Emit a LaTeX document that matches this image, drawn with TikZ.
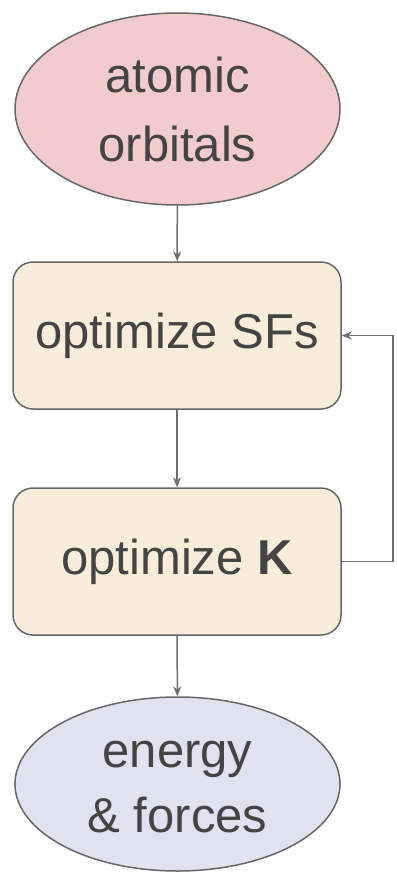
\documentclass[tikz,border=0pt]{standalone}
\usepackage{fontspec}
\setmainfont{Liberation Sans}
\usetikzlibrary{shapes.geometric,arrows.meta}
\definecolor{pinkfill}{HTML}{F2CCCC}
\definecolor{creamfill}{HTML}{F8EDD8}
\definecolor{lavfill}{HTML}{E1E1EF}
\definecolor{edgegray}{HTML}{666666}
\definecolor{txtgray}{HTML}{444444}
\definecolor{arrgray}{HTML}{6E6E6E}
\tikzset{
  x=1pt, y=-1pt,
  base/.style={draw=edgegray, line width=1.5pt, text=txtgray, inner sep=0pt, align=center,
    font=\fontsize{49}{69}\selectfont},
  oval/.style={base, ellipse, minimum width=325pt},
  stepbox/.style={base, rectangle, rounded corners=20pt, fill=creamfill, minimum width=328pt, minimum height=147pt},
  arr/.style={draw=arrgray, line width=1.5pt, -{Stealth[length=10pt,width=8pt]}}
}
\begin{document}
\begin{tikzpicture}
\useasboundingbox (0,0) rectangle (396,872);
\node[oval, fill=pinkfill, minimum height=192pt] (ao) at (177.5,109) {atomic\\orbitals};
\node[stepbox] (sf) at (177,335.5) {optimize SFs};
\node[stepbox] (k) at (177,561.5) {optimize \textbf{K}};
\node[oval, fill=lavfill, minimum height=174pt, font=\fontsize{49}{65}\selectfont] (ef) at (177.5,784) {\vphantom{t}energy\\\& forces};
\coordinate (loop) at (393,561.5);
\draw[arr] (ao) -- (sf);
\draw[arr] (sf) -- (k);
\draw[arr] (k) -- (ef);
\draw[arr] (k.east) -- (loop) |- (sf.east);
\end{tikzpicture}
\end{document}
